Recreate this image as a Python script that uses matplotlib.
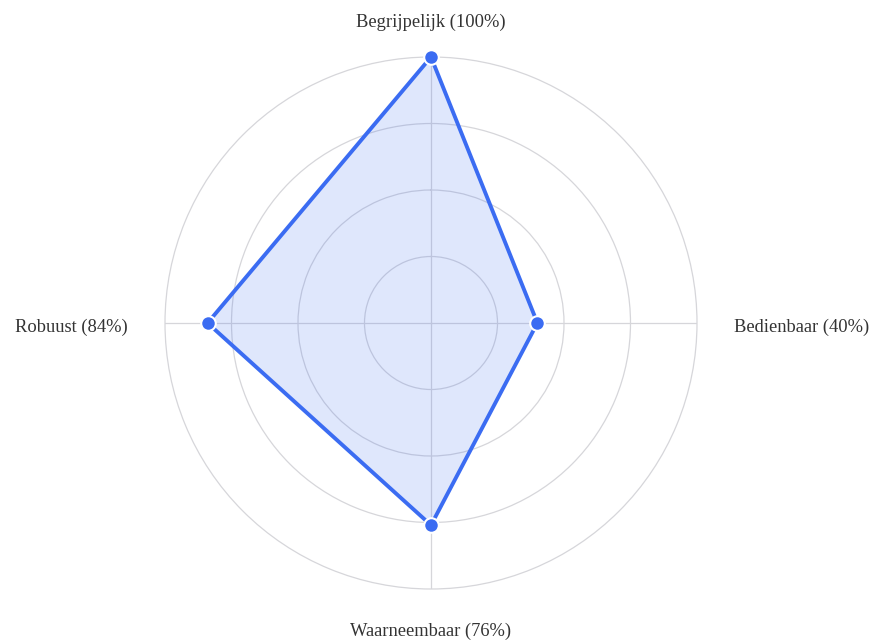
import numpy as np
import matplotlib
matplotlib.use("Agg")
import matplotlib.pyplot as plt
from matplotlib.transforms import offset_copy

categories = ["Begrijpelijk", "Bedienbaar", "Waarneembaar", "Robuust"]
values = [100, 40, 76, 84]
labels = [f"{c} ({v}%)" for c, v in zip(categories, values)]
rings = [25, 50, 75]

W, H = 874, 642
fig = plt.figure(figsize=(W / 100, H / 100), dpi=100)
cx, cy, R = 431, 323, 266
ax = fig.add_axes([(cx - R) / W, (H - cy - R) / H, 2 * R / W, 2 * R / H], projection="polar")
ax.set_theta_zero_location("N")
ax.set_theta_direction(-1)

n = len(categories)
angles = np.arange(n) * 2 * np.pi / n
ax.set_ylim(0, 100)
ax.set_yticks(rings)
ax.set_yticklabels([])
ax.set_xticks(angles)
ax.set_xticklabels([])
ax.grid(True, color="#d6d6da", linewidth=0.9)
ax.set_axisbelow(True)
ax.spines["polar"].set_color("#d6d6da")
ax.spines["polar"].set_linewidth(0.9)
ax.set_facecolor("none")

a_closed = np.concatenate([angles, angles[:1]])
v_closed = values + values[:1]
ax.fill(a_closed, v_closed, color="#3b6cf2", alpha=0.16, linewidth=0, zorder=2)
ax.plot(a_closed, v_closed, color="#3b6cf2", linewidth=2.8, zorder=3)
ax.plot(angles, values, "o", color="#3b6cf2", markersize=10.5,
        markeredgecolor="white", markeredgewidth=1.5, zorder=4, clip_on=False)

ha = ["center", "left", "center", "right"]
dy = [-3, -4, -5, -4]
for ang, lab, h, d in zip(angles, labels, ha, dy):
    tr = offset_copy(ax.transData, fig=fig, x=0, y=d, units="dots")
    ax.text(ang, 114, lab, ha=h, va="center", fontsize=13.3, transform=tr,
            family="Liberation Serif", color="#333333")

fig.savefig("out.png", dpi=100)
